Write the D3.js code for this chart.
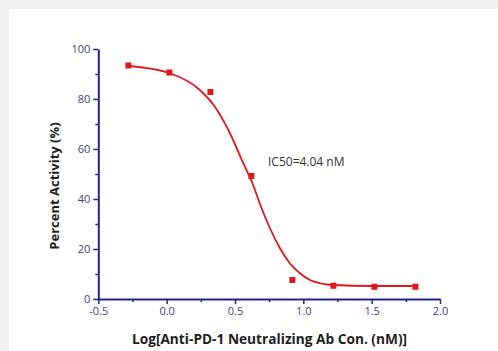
<!DOCTYPE html>
<html>
<head>
<meta charset="utf-8">
<script src="https://cdn.jsdelivr.net/npm/d3@7"></script>
<style>
  html, body { margin: 0; padding: 0; background: #f1f1f1; }
  svg { display: block; }
</style>
</head>
<body>
<script>
// measured points (log concentration, % activity)
var logConc = [-0.28, 0.02, 0.32, 0.62, 0.92, 1.22, 1.52, 1.82];
var activity = [93.4, 90.6, 82.8, 49.2, 7.6, 5.3, 4.9, 4.9];

// fitted curve
var fitX = [-0.288, 0.024, 0.243, 0.353, 0.463, 0.560, 0.624, 0.694, 0.755, 0.828, 0.901, 0.975, 1.048, 1.121, 1.216, 1.508, 1.827];
var fitY = [93.3, 90.3, 83.6, 76.9, 66.3, 54.4, 46.8, 36.4, 28.4, 20.4, 14.3, 10.3, 7.6, 6.3, 5.6, 5.2, 5.2];

var xTicks = [-0.5, 0.0, 0.5, 1.0, 1.5, 2.0];
var xTickLabels = ["-0.5", "0.0", "0.5", "1.0", "1.5", "2.0"];
var xMinor = [-0.25, 0.25, 0.75, 1.25, 1.75];
var yTicks = [0, 20, 40, 60, 80, 100];
var yMinor = [10, 30, 50, 70, 90];

var width = 498;
var height = 351;
var axisColor = "#23238c";
var labelColor = "#3d3d8a";
var red = "#e3161b";

var svg = d3.select("body").append("svg")
  .attr("width", width)
  .attr("height", height);

// white panel
svg.append("rect")
  .attr("x", 9).attr("y", 9)
  .attr("width", width - 9).attr("height", height - 9)
  .attr("fill", "#ffffff");

var xScale = d3.scaleLinear().domain([-0.5, 2.0]).range([98.3, 440]);
var yScale = d3.scaleLinear().domain([0, 100]).range([299, 49]);

// minor ticks
var xMinorAxis = d3.axisBottom(xScale).tickValues(xMinor).tickSize(3).tickFormat("");
var yMinorAxis = d3.axisLeft(yScale).tickValues(yMinor).tickSize(3).tickFormat("");

svg.append("g")
  .attr("class", "x-minor")
  .attr("transform", "translate(0," + yScale(0) + ")")
  .call(xMinorAxis);

svg.append("g")
  .attr("class", "y-minor")
  .attr("transform", "translate(" + xScale(-0.5) + ",0)")
  .call(yMinorAxis);

var xAxis = d3.axisBottom(xScale)
  .tickValues(xTicks)
  .tickSize(5)
  .tickPadding(3)
  .tickSizeOuter(0)
  .tickFormat(function (d, i) { return xTickLabels[i]; });

var yAxis = d3.axisLeft(yScale)
  .tickValues(yTicks)
  .tickSize(5)
  .tickPadding(3)
  .tickSizeOuter(0)
  .tickFormat(function (d) { return d; });

svg.append("g")
  .attr("class", "x-axis")
  .attr("transform", "translate(0," + yScale(0) + ")")
  .call(xAxis);

svg.append("g")
  .attr("class", "y-axis")
  .attr("transform", "translate(" + xScale(-0.5) + ",0)")
  .call(yAxis);

svg.selectAll(".x-axis path, .y-axis path")
  .attr("stroke", axisColor)
  .attr("stroke-width", 2);
svg.selectAll(".x-axis line, .y-axis line, .x-minor line, .y-minor line")
  .attr("stroke", axisColor)
  .attr("stroke-width", 1.5);
svg.selectAll(".x-minor path, .y-minor path").remove();

svg.selectAll(".x-axis text, .y-axis text")
  .attr("fill", labelColor)
  .style("font-family", "'Open Sans', sans-serif")
  .style("font-size", "11px");

// fitted curve
var line = d3.line()
  .x(function (d) { return xScale(d[0]); })
  .y(function (d) { return yScale(d[1]); })
  .curve(d3.curveMonotoneX);

svg.append("path")
  .datum(d3.zip(fitX, fitY))
  .attr("d", line)
  .attr("fill", "none")
  .attr("stroke", red)
  .attr("stroke-width", 1.8);

// markers
var size = 6;
svg.append("g")
  .selectAll("rect")
  .data(d3.zip(logConc, activity))
  .enter()
  .append("rect")
  .attr("x", function (d) { return xScale(d[0]) - size / 2; })
  .attr("y", function (d) { return yScale(d[1]) - size / 2; })
  .attr("width", size)
  .attr("height", size)
  .attr("fill", red);

// annotation
svg.append("text")
  .attr("x", 268)
  .attr("y", 166)
  .attr("fill", "#333333")
  .style("font-family", "'Open Sans', sans-serif")
  .style("font-size", "12px")
  .text("IC50=4.04 nM");

// axis titles
svg.append("text")
  .attr("x", 269.5)
  .attr("y", 344)
  .attr("text-anchor", "middle")
  .attr("fill", "#1e1e1e")
  .style("font-family", "'Open Sans', sans-serif")
  .style("font-size", "13.7px")
  .style("font-weight", "700")
  .text("Log[Anti-PD-1 Neutralizing Ab Con. (nM)]");

svg.append("text")
  .attr("transform", "translate(59,186) rotate(-90)")
  .attr("text-anchor", "middle")
  .attr("fill", "#1e1e1e")
  .style("font-family", "'Open Sans', sans-serif")
  .style("font-size", "13px")
  .style("font-weight", "700")
  .text("Percent Activity (%)");
</script>
</body>
</html>
